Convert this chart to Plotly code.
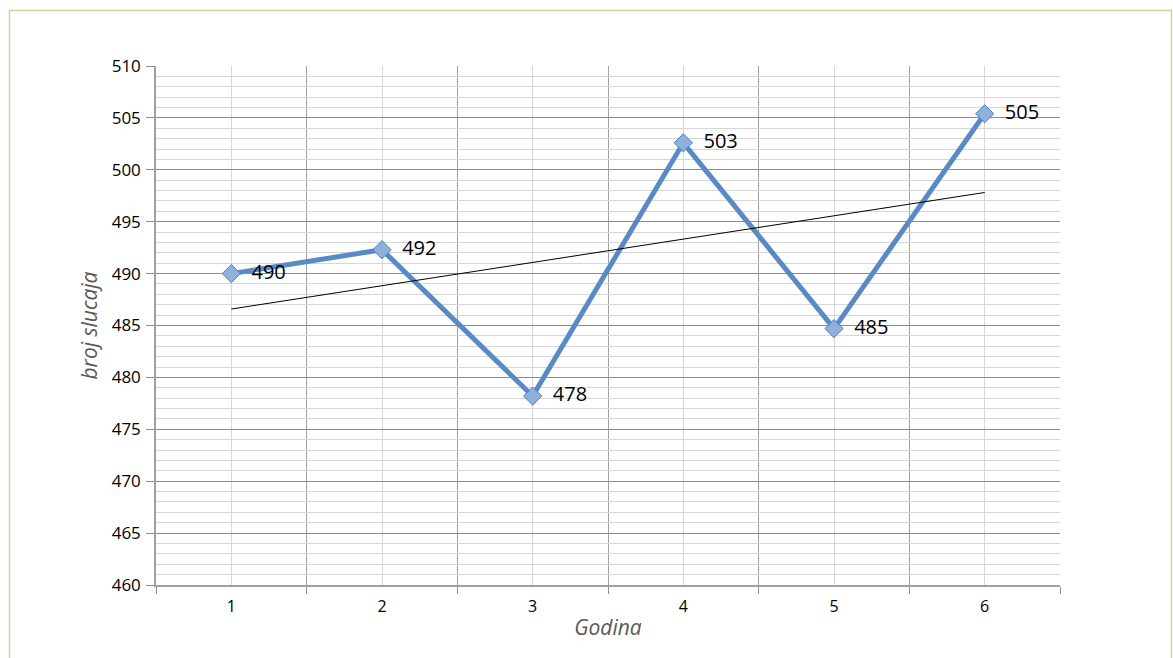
import numpy as np
import plotly.graph_objects as go

# Yearly case counts
years = [1, 2, 3, 4, 5, 6]
cases = [490.0, 492.3, 478.2, 502.6, 484.7, 505.4]
y_ticks = [460, 465, 470, 475, 480, 485, 490, 495, 500, 505, 510]

# Linear trend through the yearly values
slope, intercept = np.polyfit(years, cases, 1)
trend = [slope * x + intercept for x in years]

font_family = "Open Sans, Liberation Sans, sans-serif"

fig = go.Figure()

fig.add_trace(go.Scatter(
    x=years, y=cases,
    mode="lines+markers+text",
    line=dict(color="#5a8ac6", width=5),
    marker=dict(symbol="diamond", size=14, color="#8eb0dc",
                line=dict(color="#4f7fbf", width=1)),
    text=[f"  {v:.0f}" for v in cases],
    textposition="middle right",
    textfont=dict(family=font_family, size=20, color="#000000"),
    cliponaxis=False,
    showlegend=False,
))

fig.add_trace(go.Scatter(
    x=years, y=trend,
    mode="lines",
    line=dict(color="#000000", width=1),
    showlegend=False,
    hoverinfo="skip",
))

fig.update_layout(
    width=1173, height=658,
    margin=dict(l=156, r=113, t=66, b=73),
    paper_bgcolor="white",
    plot_bgcolor="white",
    font=dict(family=font_family, color="#000000"),
    shapes=[dict(
        type="rect", xref="paper", yref="paper",
        x0=(9.5 - 156) / 904, x1=(1171.5 - 156) / 904,
        y0=(585 - 700) / 519, y1=(585 - 10.5) / 519,
        line=dict(color="#c3d69b", width=1.5),
        fillcolor="rgba(0,0,0,0)", layer="below",
    )],
)

fig.update_xaxes(
    range=[0.5, 6.5],
    tickvals=years,
    ticktext=[str(v) for v in years],
    ticks="",
    tickfont=dict(size=16),
    ticklabelstandoff=6,
    showgrid=True, gridcolor="#d6d6d6", gridwidth=1,
    minor=dict(tick0=0.5, dtick=1, ticks="outside", ticklen=7,
               tickcolor="#8c8c8c", showgrid=True, gridcolor="#a0a0a0",
               gridwidth=1),
    showline=True, linecolor="#a0a0a0", linewidth=1.5,
    zeroline=False,
    title=dict(text="<i>Godina</i>", font=dict(size=21, color="#595959"),
               standoff=4),
)

fig.update_yaxes(
    range=[460, 510],
    tickvals=y_ticks,
    ticks="outside", ticklen=8, tickcolor="#8c8c8c",
    tickfont=dict(size=17),
    ticklabelstandoff=2,
    showgrid=True, gridcolor="#8c8c8c", gridwidth=1,
    minor=dict(dtick=1, showgrid=True, gridcolor="#d6d6d6", gridwidth=1),
    showline=True, linecolor="#a0a0a0", linewidth=1.5,
    zeroline=False,
    title=dict(text="<i>broj slucaja</i>", font=dict(size=21, color="#595959"),
               standoff=8),
)

fig.write_html("out.html")
